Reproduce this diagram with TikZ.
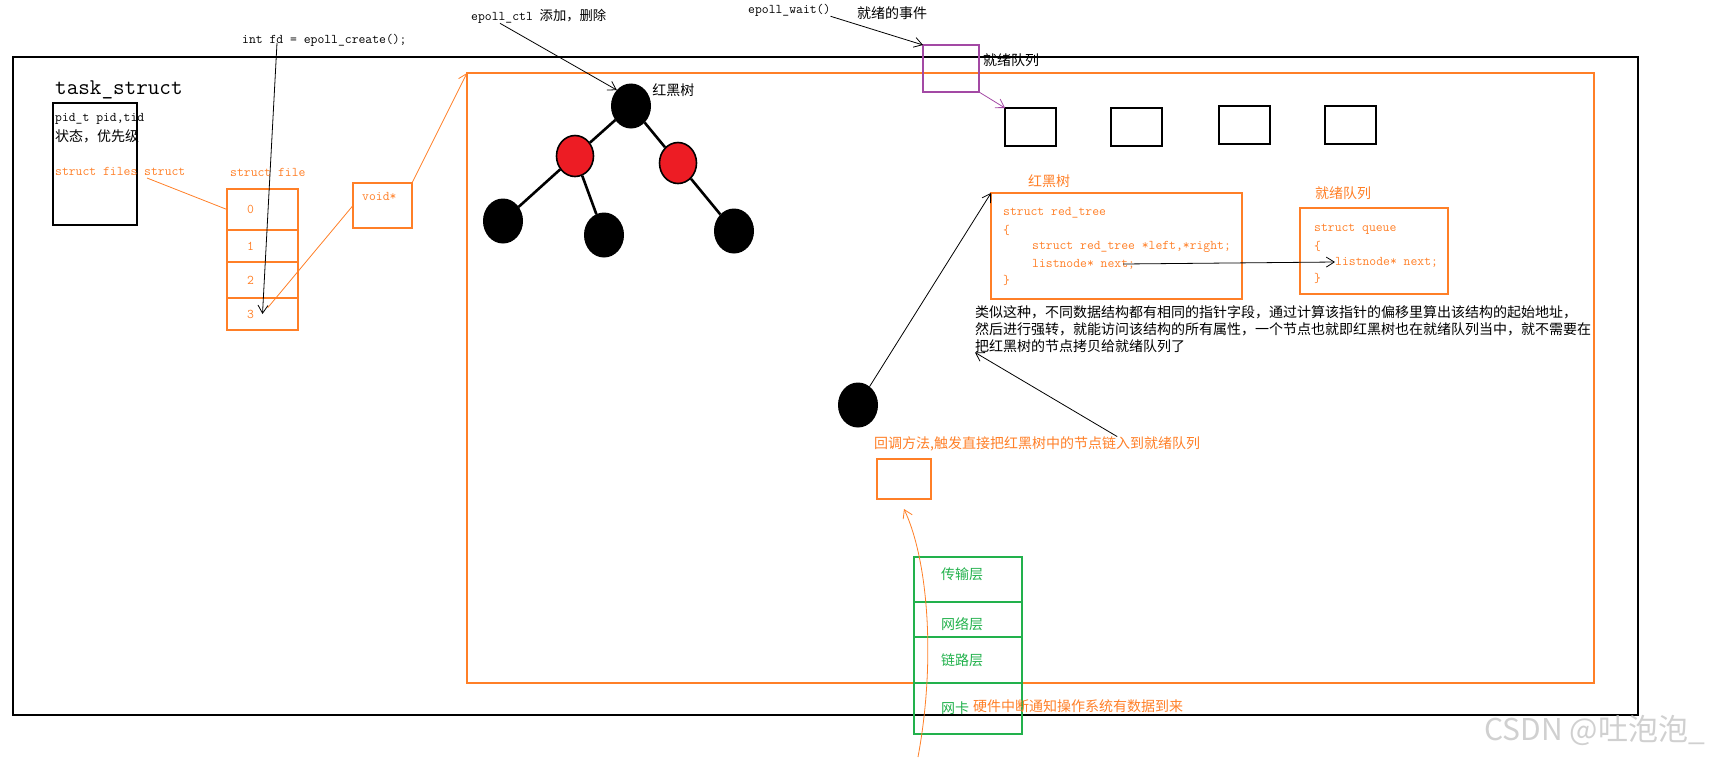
\documentclass[tikz,border=0pt]{standalone}
\usepackage{fontspec}
\usepackage{tikz}
\usetikzlibrary{positioning, arrows.meta, calc, shapes.geometric}
\newfontfamily\cjk{Noto Sans CJK SC}
\definecolor{paintorange}{RGB}{255,127,39}
\definecolor{paintgreen}{RGB}{34,177,76}
\definecolor{paintpurple}{RGB}{163,73,164}
\definecolor{treered}{RGB}{237,28,36}
\definecolor{wmgray}{RGB}{208,208,208}

\begin{document}
\begin{tikzpicture}[x=1pt, y=-1pt,
  rbox/.style={draw, inner sep=0pt, outer sep=0pt, anchor=north west},
  obox/.style={rbox, draw=paintorange, line width=1.4pt},
  slot/.style={obox, minimum width=71pt, text width=31pt, inner xsep=20pt, align=left, text=paintorange, font=\ttfamily\fontsize{13.3}{16}\selectfont},
  lyr/.style={rbox, draw=paintgreen, line width=1.3pt, minimum width=108pt, text width=54pt, inner xsep=27pt, align=left, text=paintgreen, font=\cjk\fontsize{14}{17}\selectfont},
  qbox/.style={rbox, line width=1.2pt, minimum width=51pt, minimum height=38pt},
  src/.style={inner sep=0pt, anchor=west, font=\ttfamily\fontsize{13.3}{17}\selectfont},
  osrc/.style={src, text=paintorange},
  cn/.style={inner sep=0pt, anchor=west, font=\cjk\fontsize{14}{17}\selectfont},
  ocn/.style={cn, text=paintorange},
  bn/.style={ellipse, draw, fill=black, line width=1pt, minimum width=39pt, minimum height=44pt, inner sep=0pt},
  rn/.style={bn, fill=treered, line width=1.6pt, minimum width=37pt, minimum height=41pt},
  twig/.style={line width=2.6pt},
  arr/.style={-{Straight Barb[length=8pt, width=10pt]}, line width=0.8pt}]
\useasboundingbox (0,0) rectangle (1710,758);
\node[rbox, line width=1.2pt, minimum width=1625pt, minimum height=658pt] (proc) at (13,57) {};
\node[obox, minimum width=1127pt, minimum height=610pt] (kern) at (467,73) {};
\node[src, font=\ttfamily\fontsize{22.5}{24}\selectfont] (task) at (55,90) {task\_struct};
\node[rbox, line width=1.2pt, minimum width=84pt, minimum height=122pt] (tbox) at (53,103) {};
\node[src] (pid) at (55,119) {pid\_t pid,tid};
\node[cn] (stat) at (55,136) {状态，优先级};
\node[osrc] (files) at (55,171) {struct files struct};
\node[osrc] (ftitle) at (230,172) {struct file};
\node[slot, minimum height=41pt, line width=2pt] (f0) at (227,189) {0};
\node[slot, minimum height=32pt, line width=2pt, below=0pt of f0] (f1) {1};
\node[slot, minimum height=36pt, line width=2pt, below=0pt of f1] (f2) {2};
\node[slot, minimum height=32pt, below=0pt of f2] (f3) {3};
\node[obox, minimum width=59pt, minimum height=45pt] (vbox) at (353,183) {};
\node[osrc, below right=9pt and 9pt of vbox.north west] (vtxt) {void*};
\coordinate (fsp) at (147,178);
\draw[paintorange, line width=0.8pt] (fsp) -- (f0.west);
\node[src] (create) at (242,40) {int fd = epoll\_create();};
\coordinate (fdp) at (277,43);
\draw[arr] (fdp) -- (f3.center);
\draw[paintorange, line width=0.8pt, shorten >=8pt] (vbox.west) -- (f3.center);
\draw[arr, paintorange] (vbox.north east) -- (kern.north west);
\node[src] (ctl) at (471,16) {epoll\_ctl {\cjk 添加，删除}};
\node[bn] (root) at (631,106) {};
\node[cn, right=7pt of root.north east] (rbt) {红黑树};
\node[rn] (ra) at (575,156) {};
\node[rn] (rb) at (678,163) {};
\node[bn] (la) at (503,221) {};
\node[bn] (lb) at (604,235) {};
\node[bn] (lc) at (734,231) {};
\draw[twig] (root) -- (ra);
\draw[twig] (root) -- (rb);
\draw[twig] (ra) -- (la);
\draw[twig] (ra) -- (lb);
\draw[twig] (rb) -- (lc);
\draw[arr] ($(ctl.south west)+(29,0)$) -- (root.north west);
\node[src] (wait) at (748,10) {epoll\_wait()};
\node[cn] (evt) at (857,13) {就绪的事件};
\node[rbox, draw=paintpurple, line width=1.3pt, minimum width=56pt, minimum height=47pt] (rdy) at (923,45) {};
\node[cn] (rdyl) at (983,60) {就绪队列};
\draw[arr] (wait.south east) -- (rdy.north west);
\node[qbox] (q1) at (1005,108) {};
\node[qbox] (q2) at (1111,108) {};
\node[qbox] (q3) at (1219,106) {};
\node[qbox] (q4) at (1325,106) {};
\draw[arr, paintpurple] (rdy.south east) -- (q1.north west);
\node[ocn] (rtl) at (1028,181) {红黑树};
\node[obox, minimum width=251pt, minimum height=106pt] (rt) at (991,193) {};
\node[osrc] (rt1) at (1003,213) {struct red\_tree};
\node[osrc] (rt2) at (1003,230) {\{};
\node[osrc] (rt3) at (1032,247) {struct red\_tree *left,*right;};
\node[osrc] (rt4) at (1032,264) {listnode* next;};
\node[osrc] (rt5) at (1003,280) {\}};
\node[ocn] (ql) at (1315,193) {就绪队列};
\node[obox, minimum width=148pt, minimum height=86pt] (qs) at (1300,208) {};
\node[osrc] (qs1) at (1314,229) {struct queue};
\node[osrc] (qs2) at (1314,246) {\{};
\node[osrc] (qs3) at (1335,262) {listnode* next;};
\node[osrc] (qs4) at (1314,278) {\}};
\draw[arr] ([xshift=-12pt]rt4.east) -- (qs3.west);
\node[cn, anchor=north west, align=left] (para) at (975,305) {类似这种，不同数据结构都有相同的指针字段，通过计算该指针的偏移里算出该结构的起始地址，\\然后进行强转，就能访问该结构的所有属性，一个节点也就即红黑树也在就绪队列当中，就不需要在\\把红黑树的节点拷贝给就绪队列了};
\node[bn] (ln) at (858,405) {};
\draw[arr] (ln) -- (rt.north west);
\node[ocn] (cb) at (874,444) {回调方法,触发直接把红黑树中的节点链入到就绪队列};
\draw[arr] ([xshift=80pt]cb.north) -- (para.south west);
\node[obox, minimum width=54pt, minimum height=40pt] (cbx) at (877,459) {};
\node[lyr, minimum height=45pt, line width=1.8pt, text depth=12pt] (tl) at (914,557) {传输层};
\node[lyr, minimum height=35pt, text height=22pt, below=0pt of tl] (nl) {网络层};
\node[lyr, minimum height=46pt, line width=1.8pt, below=0pt of nl] (dl) {链路层};
\node[lyr, minimum height=51pt, below=0pt of dl] (nic) {网卡};
\node[ocn] (hw) at (973,706) {硬件中断通知操作系统有数据到来};
\coordinate (irq) at (918,757);
\draw[arr, paintorange] (irq) .. controls (936,660) and (928,560) .. ([yshift=-10pt]cbx.south);
\node[inner sep=0pt, anchor=east, text=wmgray, font=\cjk\fontsize{30}{30}\selectfont] (wm) at (1705,730) {CSDN @吐泡泡\_};
\end{tikzpicture}
\end{document}
